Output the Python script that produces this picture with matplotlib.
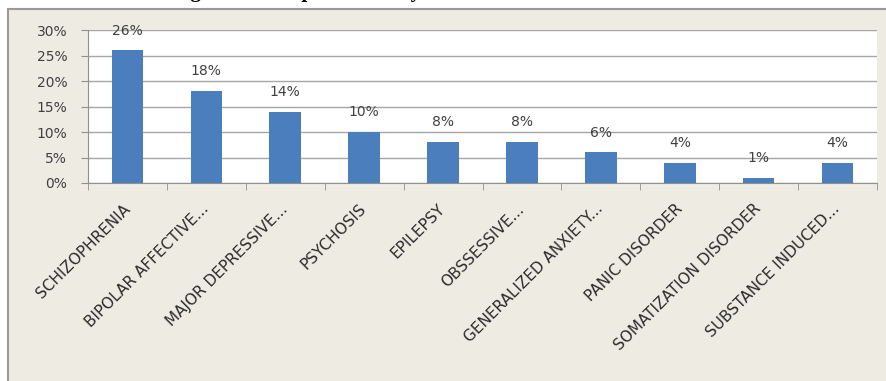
import matplotlib.pyplot as plt
from matplotlib.patches import Rectangle
from matplotlib.ticker import FuncFormatter, FixedLocator

# data
categories = ["SCHIZOPHRENIA", "BIPOLAR AFFECTIVE...", "MAJOR DEPRESSIVE...", "PSYCHOSIS",
              "EPILEPSY", "OBSSESSIVE...", "GENERALIZED ANXIETY...", "PANIC DISORDER",
              "SOMATIZATION DISORDER", "SUBSTANCE INDUCED..."]
percent = [26, 18, 14, 10, 8, 8, 6, 4, 1, 4]
y_ticks = [0, 5, 10, 15, 20, 25, 30]

W, H = 887, 381
fig = plt.figure(figsize=(W / 100, H / 100), dpi=100)
fig.patch.set_facecolor("white")

# chart area (beige with grey frame, runs off the right/bottom edge)
fig.add_artist(Rectangle((8 / W, -0.05), 1.1, 1 - 8.5 / H + 0.05, transform=fig.transFigure,
                         facecolor="#eeece2", edgecolor="#9a9a9a", linewidth=1.5, zorder=0))

# title, cropped off the top as in the source image
fig.text(172 / W, 1 + 3 / H, "Figure 1: Complaints of Psychiatric Illness", fontsize=15,
         fontweight="bold", family="Liberation Serif", va="baseline", ha="left", zorder=1)

ax = fig.add_axes([88 / W, 1 - 183 / H, 789 / W, 153 / H])
ax.set_facecolor("white")
x = range(len(categories))
ax.bar(x, percent, width=0.4, color="#4a7ebd", zorder=3)
for i, v in enumerate(percent):
    ax.text(i, v + 2.5, f"{v}%", ha="center", va="bottom", fontsize=10, color="#404040")

ax.set_xlim(-0.5, len(categories) - 0.5)
ax.set_ylim(0, 30)
ax.set_yticks(y_ticks)
ax.yaxis.set_major_formatter(FuncFormatter(lambda v, p: f"{v:.0f}%"))
ax.grid(axis="y", color="#a6a6a6", linewidth=1, zorder=0)
ax.set_xticks(list(x))
ax.set_xticklabels(categories, rotation=45, ha="right", va="center", rotation_mode="anchor",
                   fontsize=11, color="#2b2b2b")
ax.xaxis.set_minor_locator(FixedLocator([i - 0.5 for i in range(len(categories) + 1)]))
ax.tick_params(axis="x", which="major", length=0, pad=17)
ax.tick_params(axis="x", which="minor", length=5, color="#909090", direction="out")
ax.tick_params(axis="y", length=5, color="#909090", labelsize=10, labelcolor="#404040", pad=10)
for s in ["top", "right"]:
    ax.spines[s].set_visible(False)
ax.spines["left"].set_color("#909090")
ax.spines["bottom"].set_color("#909090")

fig.savefig("out.png", dpi=100)
